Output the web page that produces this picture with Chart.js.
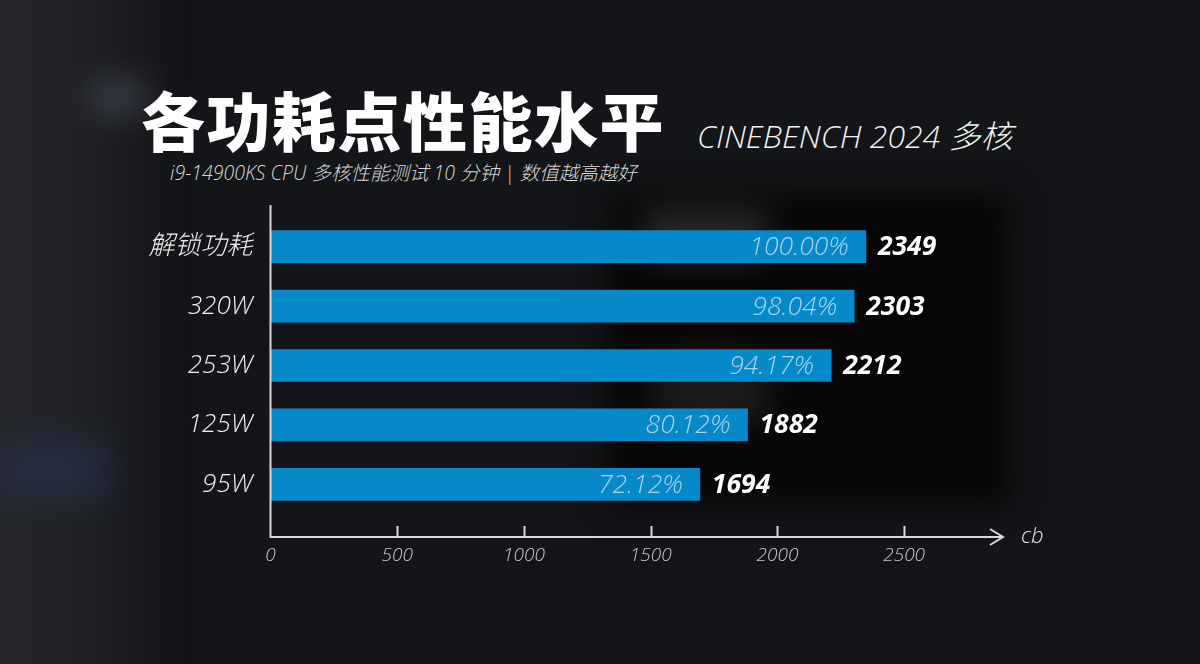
<!DOCTYPE html>
<html>
<head>
<meta charset="utf-8">
<script src="https://cdn.jsdelivr.net/npm/chart.js@4.4.1/dist/chart.umd.min.js"></script>
<style>
  html, body { margin: 0; padding: 0; }
  body {
    width: 1200px; height: 664px; overflow: hidden; position: relative;
    background: #141518;
    font-family: "Open Sans", "Noto Sans CJK SC", sans-serif;
  }
  #bg { position: absolute; left: -40px; top: -40px; width: 1280px; height: 744px; filter: blur(16px); }
  #bg div { position: absolute; }
  #chartBox { position: absolute; left: 0; top: 0; width: 1200px; height: 664px; }
  .title {
    position: absolute; left: 141px; top: 80px; margin: 0;
    font-family: "Noto Sans CJK SC", sans-serif; font-weight: 900;
    font-size: 64px; line-height: 76px; letter-spacing: 1.5px; color: #fff;
  }
  .bench {
    position: absolute; left: 697px; top: 114px;
    font-size: 32px; line-height: 44px; font-style: italic; font-weight: 300; color: #f2f2f2;
  }
  .sub {
    position: absolute; left: 170px; top: 160px;
    font-size: 19.5px; line-height: 26px; font-style: italic; font-weight: 300; color: #d6d6d6;
  }
</style>
</head>
<body>
<div id="bg">
  <div style="left:0;top:0;width:210px;height:744px;background:linear-gradient(90deg,#26282d 0%,#202226 60%,rgba(20,21,24,0) 100%)"></div>
  <div style="left:130px;top:120px;width:60px;height:34px;border-radius:17px;background:#5a6070;opacity:.5"></div>
  <div style="left:40px;top:480px;width:110px;height:60px;background:#2a3350;opacity:.6"></div>
  <div style="left:650px;top:235px;width:400px;height:310px;background:#060606"></div>
  <div style="left:680px;top:250px;width:130px;height:50px;border-radius:20px;background:#3e403e;opacity:.6"></div>
  <div style="left:690px;top:390px;width:120px;height:80px;border-radius:30px;background:#2a2824;opacity:.6"></div>
</div>
<div class="title">各功耗点性能水平</div>
<div class="bench">CINEBENCH 2024 多核</div>
<div class="sub">i9-14900KS CPU 多核性能测试 10 分钟 | 数值越高越好</div>
<div id="chartBox"><canvas id="chart"></canvas></div>
<script>
// data
const categories = ['解锁功耗', '320W', '253W', '125W', '95W'];
const scores = [2349, 2303, 2212, 1882, 1694];
const percents = ['100.00%', '98.04%', '94.17%', '80.12%', '72.12%'];
const xTicks = [0, 500, 1000, 1500, 2000, 2500];
const xMax = 2890;
const unitLabel = 'cb';

const latin = '"Open Sans", "Noto Sans CJK SC", sans-serif';
const axisColor = '#d9d9d9';

// axis lines with arrow, small tick marks, bar labels
const decorPlugin = {
  id: 'decor',
  afterDatasetsDraw(chart) {
    const ctx = chart.ctx;
    const x = chart.scales.x;
    const area = chart.chartArea;
    const axisY = area.bottom + 23;
    const topY = area.top - 12;
    ctx.save();
    ctx.strokeStyle = axisColor;
    ctx.lineWidth = 2;
    ctx.beginPath();
    ctx.moveTo(area.left, topY);
    ctx.lineTo(area.left, axisY);
    ctx.lineTo(area.right - 1, axisY);
    ctx.stroke();
    // arrow head
    ctx.beginPath();
    ctx.moveTo(area.right - 13, axisY - 8);
    ctx.lineTo(area.right, axisY);
    ctx.lineTo(area.right - 13, axisY + 8);
    ctx.stroke();
    // tick marks
    xTicks.forEach(v => {
      if (v === 0) return;
      const px = Math.round(x.getPixelForValue(v)) + 0.5;
      ctx.beginPath();
      ctx.moveTo(px, axisY);
      ctx.lineTo(px, axisY - 11);
      ctx.stroke();
    });
    // unit
    ctx.fillStyle = '#e6e6e6';
    ctx.font = 'italic 300 22px ' + latin;
    ctx.textAlign = 'left';
    ctx.textBaseline = 'middle';
    ctx.fillText(unitLabel, area.right + 18, axisY);

    // bar labels
    const meta = chart.getDatasetMeta(0);
    meta.data.forEach((bar, i) => {
      ctx.textBaseline = 'middle';
      ctx.textAlign = 'right';
      ctx.fillStyle = '#a9d3ec';
      ctx.font = 'italic 300 26.5px ' + latin;
      ctx.fillText(percents[i], bar.x - 17, bar.y + 1);
      ctx.textAlign = 'left';
      ctx.fillStyle = '#ffffff';
      ctx.font = 'italic 700 26.5px ' + latin;
      ctx.fillText(String(scores[i]), bar.x + 12, bar.y + 1);
    });
    ctx.restore();
  }
};

new Chart(document.getElementById('chart'), {
  type: 'bar',
  data: {
    labels: categories,
    datasets: [{
      data: scores,
      backgroundColor: '#0589c9',
      barThickness: 32,
      borderWidth: 0
    }]
  },
  options: {
    indexAxis: 'y',
    responsive: true,
    maintainAspectRatio: false,
    animation: false,
    layout: { padding: { top: 217, right: 197, bottom: 0, left: 0 } },
    plugins: { legend: { display: false }, tooltip: { enabled: false } },
    scales: {
      x: {
        type: 'linear',
        min: 0,
        max: xMax,
        afterBuildTicks(scale) { scale.ticks = xTicks.map(v => ({ value: v })); },
        afterFit(scale) { scale.height = 150; },
        grid: { display: false, drawTicks: false },
        border: { display: false },
        ticks: {
          padding: 30,
          color: '#c8c8c8',
          callback: v => String(v),
          font: { family: latin, size: 19, style: 'italic', weight: 300 }
        }
      },
      y: {
        type: 'category',
        afterFit(scale) { scale.width = 270.5; },
        grid: { display: false, drawTicks: false },
        border: { display: false },
        ticks: {
          padding: 18,
          color: '#f0f0f0',
          font: { family: latin, size: 26, style: 'italic', weight: 300 }
        }
      }
    }
  },
  plugins: [decorPlugin]
});
</script>
</body>
</html>
